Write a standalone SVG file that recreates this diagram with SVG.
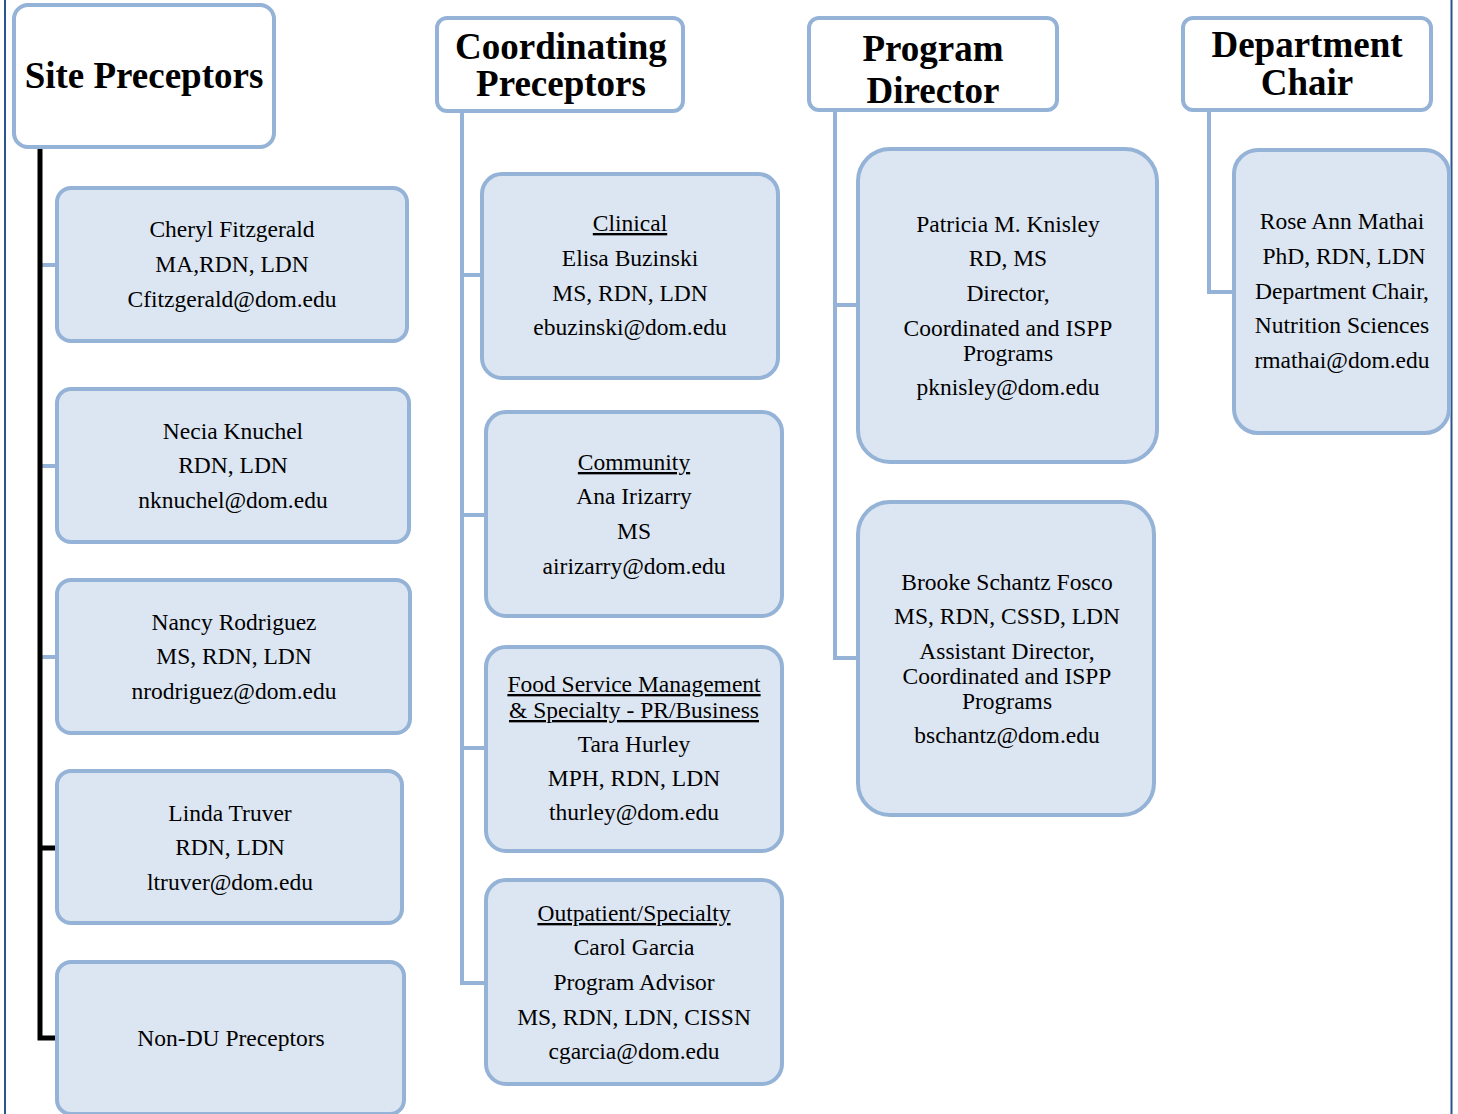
<svg xmlns="http://www.w3.org/2000/svg" width="1458" height="1114" viewBox="0 0 1458 1114">
<style>
.hdr{fill:#ffffff;stroke:#95b3d7;stroke-width:4}
.box{fill:#dce6f2;stroke:#95b3d7;stroke-width:4}
.ht{font-family:"Liberation Serif","Times New Roman",serif;font-weight:bold;font-size:37px;fill:#000;text-anchor:middle}
.t{font-family:"Liberation Serif","Times New Roman",serif;font-size:23.5px;fill:#000;text-anchor:middle}
.u{text-decoration:underline}
.blue{stroke:#95b3d7;stroke-width:4;fill:none}
.black{stroke:#000;stroke-width:5;fill:none}
.page{stroke:#2a5590;stroke-width:2}
</style>
<rect x="0" y="0" width="1458" height="1114" fill="#ffffff"/>
<line class="page" x1="5" y1="0" x2="5" y2="1114"/>
<line class="page" x1="1451.5" y1="0" x2="1451.5" y2="1114"/>

<g id="connectors">
  <line class="blue" x1="40" y1="265" x2="58" y2="265"/>
  <line class="blue" x1="40" y1="466" x2="58" y2="466"/>
  <line class="blue" x1="40" y1="657" x2="58" y2="657"/>
  <polyline class="black" points="40,148 40,1038 57,1038"/>
  <line class="black" x1="40" y1="848" x2="57" y2="848"/>

  <polyline class="blue" points="462,111 462,983 486,983"/>
  <line class="blue" x1="462" y1="275" x2="482" y2="275"/>
  <line class="blue" x1="462" y1="515" x2="486" y2="515"/>
  <line class="blue" x1="462" y1="748" x2="486" y2="748"/>

  <polyline class="blue" points="835,111 835,658 858,658"/>
  <line class="blue" x1="835" y1="305" x2="858" y2="305"/>

  <polyline class="blue" points="1209,111 1209,292 1234,292"/>
</g>

<g id="hdr-site">
  <rect class="hdr" x="14" y="5" width="260" height="142" rx="14"/>
  <text class="ht" x="144" y="88" fill="#262626">Site Preceptors</text>
</g>
<g id="hdr-coord">
  <rect class="hdr" x="437" y="18" width="246" height="93" rx="10"/>
  <text class="ht" x="561" y="59">Coordinating</text>
  <text class="ht" x="561" y="96">Preceptors</text>
</g>
<g id="hdr-program">
  <rect class="hdr" x="809" y="18" width="248" height="92" rx="10"/>
  <text class="ht" x="933" y="61">Program</text>
  <text class="ht" x="933" y="103">Director</text>
</g>
<g id="hdr-dept">
  <rect class="hdr" x="1183" y="18" width="248" height="92" rx="10"/>
  <text class="ht" x="1307" y="57">Department</text>
  <text class="ht" x="1307" y="95">Chair</text>
</g>

<g id="site1">
  <rect class="box" x="57" y="188" width="350" height="153" rx="14"/>
  <text class="t" x="232" y="237">Cheryl Fitzgerald</text>
  <text class="t" x="232" y="272">MA,RDN, LDN</text>
  <text class="t" x="232" y="307">Cfitzgerald@dom.edu</text>
</g>
<g id="site2">
  <rect class="box" x="57" y="389" width="352" height="153" rx="14"/>
  <text class="t" x="233" y="439">Necia Knuchel</text>
  <text class="t" x="233" y="473">RDN, LDN</text>
  <text class="t" x="233" y="508">nknuchel@dom.edu</text>
</g>
<g id="site3">
  <rect class="box" x="57" y="580" width="353" height="153" rx="14"/>
  <text class="t" x="234" y="630">Nancy Rodriguez</text>
  <text class="t" x="234" y="664">MS, RDN, LDN</text>
  <text class="t" x="234" y="699">nrodriguez@dom.edu</text>
</g>
<g id="site4">
  <rect class="box" x="57" y="771" width="345" height="152" rx="14"/>
  <text class="t" x="230" y="821">Linda Truver</text>
  <text class="t" x="230" y="855">RDN, LDN</text>
  <text class="t" x="230" y="890">ltruver@dom.edu</text>
</g>
<g id="site5">
  <rect class="box" x="57" y="962" width="347" height="152" rx="14"/>
  <text class="t" x="231" y="1046">Non-DU Preceptors</text>
</g>

<g id="clinical">
  <rect class="box" x="482" y="174" width="296" height="204" rx="20"/>
  <text class="t u" x="630" y="231">Clinical</text>
  <text class="t" x="630" y="266">Elisa Buzinski</text>
  <text class="t" x="630" y="301">MS, RDN, LDN</text>
  <text class="t" x="630" y="335">ebuzinski@dom.edu</text>
</g>
<g id="community">
  <rect class="box" x="486" y="412" width="296" height="204" rx="20"/>
  <text class="t u" x="634" y="470">Community</text>
  <text class="t" x="634" y="504">Ana Irizarry</text>
  <text class="t" x="634" y="539">MS</text>
  <text class="t" x="634" y="574">airizarry@dom.edu</text>
</g>
<g id="foodservice">
  <rect class="box" x="486" y="647" width="296" height="204" rx="20"/>
  <text class="t u" x="634" y="692">Food Service Management</text>
  <text class="t u" x="634" y="718">&amp; Specialty - PR/Business</text>
  <text class="t" x="634" y="752">Tara Hurley</text>
  <text class="t" x="634" y="786">MPH, RDN, LDN</text>
  <text class="t" x="634" y="820">thurley@dom.edu</text>
</g>
<g id="outpatient">
  <rect class="box" x="486" y="880" width="296" height="204" rx="20"/>
  <text class="t u" x="634" y="921">Outpatient/Specialty</text>
  <text class="t" x="634" y="955">Carol Garcia</text>
  <text class="t" x="634" y="990">Program Advisor</text>
  <text class="t" x="634" y="1025">MS, RDN, LDN, CISSN</text>
  <text class="t" x="634" y="1059">cgarcia@dom.edu</text>
</g>

<g id="knisley">
  <rect class="box" x="858" y="149" width="299" height="313" rx="32"/>
  <text class="t" x="1008" y="232">Patricia M. Knisley</text>
  <text class="t" x="1008" y="266">RD, MS</text>
  <text class="t" x="1008" y="301">Director,</text>
  <text class="t" x="1008" y="336">Coordinated and ISPP</text>
  <text class="t" x="1008" y="361">Programs</text>
  <text class="t" x="1008" y="395">pknisley@dom.edu</text>
</g>
<g id="schantz">
  <rect class="box" x="858" y="502" width="296" height="313" rx="32"/>
  <text class="t" x="1007" y="590">Brooke Schantz Fosco</text>
  <text class="t" x="1007" y="624">MS, RDN, CSSD, LDN</text>
  <text class="t" x="1007" y="659">Assistant Director,</text>
  <text class="t" x="1007" y="684">Coordinated and ISPP</text>
  <text class="t" x="1007" y="709">Programs</text>
  <text class="t" x="1007" y="743">bschantz@dom.edu</text>
</g>

<g id="mathai">
  <rect class="box" x="1234" y="150" width="215" height="283" rx="24"/>
  <text class="t" x="1342" y="229">Rose Ann Mathai</text>
  <text class="t" x="1344" y="264">PhD, RDN, LDN</text>
  <text class="t" x="1342" y="299">Department Chair,</text>
  <text class="t" x="1342" y="333">Nutrition Sciences</text>
  <text class="t" x="1342" y="368">rmathai@dom.edu</text>
</g>
</svg>
